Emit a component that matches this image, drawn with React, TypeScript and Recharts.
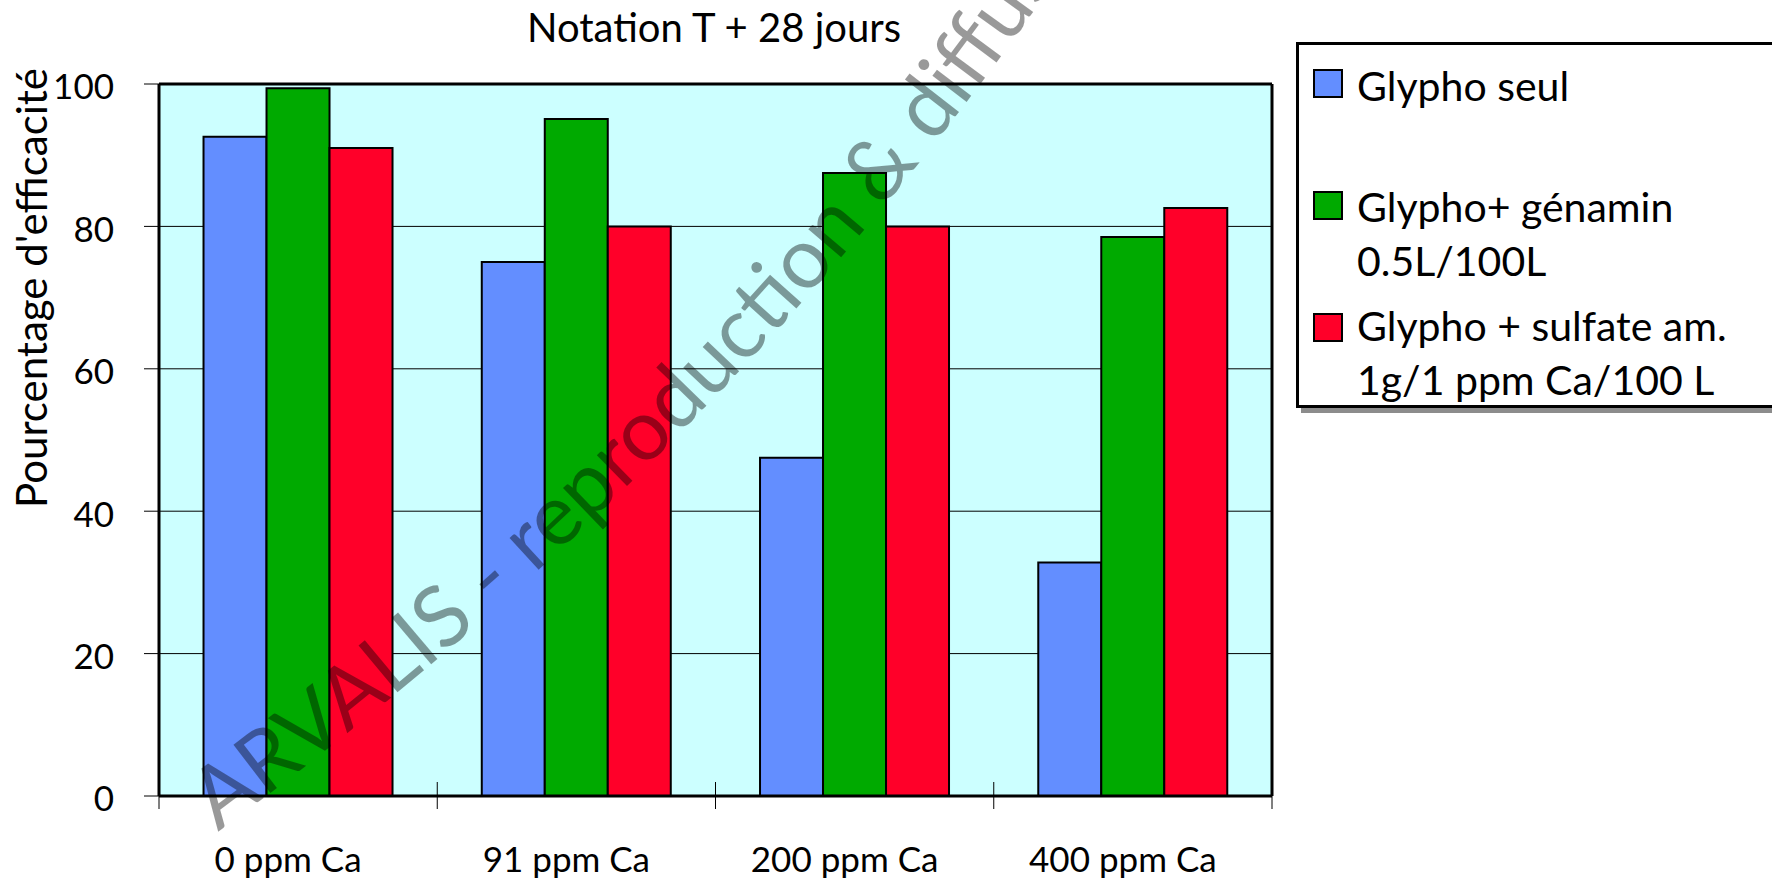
import React from 'react';
import { BarChart, Bar, XAxis, YAxis, CartesianGrid, Legend, ReferenceLine } from 'recharts';

// data
const categories = ['0 ppm Ca', '91 ppm Ca', '200 ppm Ca', '400 ppm Ca'];
const glyphoSeul = [92.6, 75.0, 47.5, 32.8];
const glyphoGenamin = [99.4, 95.1, 87.5, 78.5];
const glyphoSulfate = [91.0, 80.0, 80.0, 82.6];
const seriesNames = ['Glypho seul', 'Glypho+ génamin\n0.5L/100L', 'Glypho + sulfate am.\n1g/1 ppm Ca/100 L'];
const seriesColors = ['#638EFF', '#00AA00', '#FF0029'];
const yTicks = [0, 20, 40, 60, 80, 100];
const title = 'Notation T + 28 jours';
const yLabel = "Pourcentage d'efficacité";
const watermark = 'ARVALIS - reproduction & diffusion';

const data = categories.map((cat, i) => ({
  cat,
  s0: glyphoSeul[i],
  s1: glyphoGenamin[i],
  s2: glyphoSulfate[i],
}));

// layout
const W = 1772;
const H = 882;
const PLOT_LEFT = 159;
const PLOT_TOP = 84;
const PLOT_RIGHT = 1272;
const PLOT_BOTTOM = 796;
const FONT = 'Lato, "Open Sans", sans-serif';

const XTick = (props: any) => {
  const { x, y, payload, index } = props;
  const band = (PLOT_RIGHT - PLOT_LEFT) / categories.length;
  const left = x - band / 2;
  return (
    <g>
      <line x1={left} x2={left} y1={y - 14} y2={y + 13} stroke="#000" strokeWidth={1} />
      {index === categories.length - 1 && (
        <line x1={left + band} x2={left + band} y1={y - 14} y2={y + 13} stroke="#000" strokeWidth={1} />
      )}
      <text x={x - 10} y={y + 76} textAnchor="middle" fontSize={35} fill="#000" fontFamily={FONT}>
        {payload.value}
      </text>
    </g>
  );
};

const sqTops = [24, 146, 268];
const txtTops = [14, 135, 254];

const LegendBox = ({ payload }: any) => {
  const items = (payload || [])
    .slice()
    .sort((a: any, b: any) => seriesNames.indexOf(a.value) - seriesNames.indexOf(b.value));
  return (
    <div
      style={{
        position: 'relative',
        width: 520,
        height: 366,
        boxSizing: 'border-box',
        border: '3px solid #000',
        background: '#fff',
        boxShadow: '5px 5px 0 #8c8c8c',
        fontFamily: FONT,
        fontSize: 41,
        lineHeight: '54px',
        color: '#000',
      }}
    >
      {items.map((p: any, i: number) => (
        <React.Fragment key={p.value}>
          <div
            style={{
              position: 'absolute',
              left: 14,
              top: sqTops[i],
              width: 30,
              height: 29,
              boxSizing: 'border-box',
              border: '2px solid #000',
              background: p.color,
            }}
          />
          <div style={{ position: 'absolute', left: 58, top: txtTops[i], whiteSpace: 'pre' }}>{p.value}</div>
        </React.Fragment>
      ))}
    </div>
  );
};

export default function App() {
  return (
    <div style={{ position: 'absolute', left: 0, top: 0, width: W, height: H, overflow: 'hidden', background: '#fff', fontFamily: FONT }}>
      <BarChart
        width={W}
        height={H}
        data={data}
        margin={{ top: PLOT_TOP, left: 0, right: W - PLOT_RIGHT - 6, bottom: 0 }}
        barCategoryGap="16%"
        barGap={0}
      >
        <CartesianGrid vertical={false} fill="#CCFFFF" stroke="#000" strokeWidth={1} />
        <XAxis
          dataKey="cat"
          height={H - PLOT_BOTTOM}
          axisLine={{ stroke: '#000', strokeWidth: 3 }}
          tickLine={false}
          tickSize={0}
          tickMargin={0}
          tick={<XTick />}
          interval={0}
        />
        <YAxis
          width={PLOT_LEFT}
          domain={[0, 100]}
          ticks={yTicks}
          interval={0}
          axisLine={{ stroke: '#000', strokeWidth: 3 }}
          tickLine={{ stroke: '#000', strokeWidth: 1 }}
          tickSize={15}
          tickMargin={30}
          tick={{ fill: '#000', fontSize: 35, fontFamily: FONT, dy: 3 }}
        />
        <YAxis
          yAxisId="r"
          orientation="right"
          width={6}
          domain={[0, 100]}
          ticks={yTicks}
          interval={0}
          axisLine={{ stroke: '#000', strokeWidth: 3 }}
          tickLine={{ stroke: '#000', strokeWidth: 1 }}
          tickSize={6}
          tick={false}
        />
        <Legend
          layout="vertical"
          align="center"
          verticalAlign="middle"
          content={<LegendBox />}
          wrapperStyle={{ left: 1296, top: 42, width: 520, height: 366 }}
        />
        <Bar dataKey="s0" name={seriesNames[0]} fill={seriesColors[0]} stroke="#000" strokeWidth={2} isAnimationActive={false} />
        <Bar dataKey="s1" name={seriesNames[1]} fill={seriesColors[1]} stroke="#000" strokeWidth={2} isAnimationActive={false} />
        <Bar dataKey="s2" name={seriesNames[2]} fill={seriesColors[2]} stroke="#000" strokeWidth={2} isAnimationActive={false} />
        <ReferenceLine y={100} stroke="#000" strokeWidth={3} />
      </BarChart>
      <svg width={W} height={H} style={{ position: 'absolute', left: 0, top: 0, pointerEvents: 'none' }}>
        <defs>
          <path id="wm-arc" d="M 218 832 Q 740 450 1090 -70" fill="none" />
        </defs>
        <text x={714} y={42} textAnchor="middle" fontSize={40} fill="#000" fontFamily={FONT}>
          {title}
        </text>
        <text transform="translate(47,288) rotate(-90)" textAnchor="middle" fontSize={42} fill="#000" fontFamily={FONT}>
          {yLabel}
        </text>
        <text fontSize={85} fill="#000" fillOpacity={0.4} fontFamily={FONT}>
          <textPath href="#wm-arc">{watermark}</textPath>
        </text>
      </svg>
    </div>
  );
}
